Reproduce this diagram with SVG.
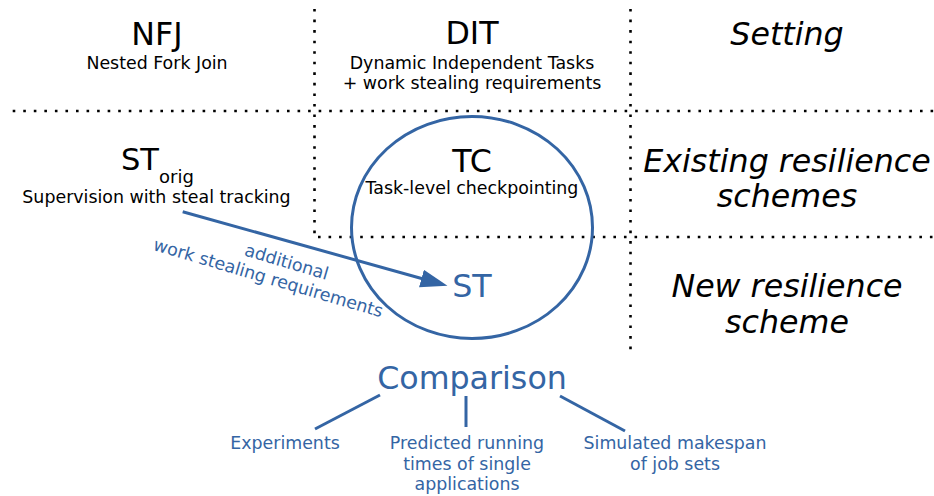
<svg xmlns="http://www.w3.org/2000/svg" width="934" height="496" viewBox="0 0 934 496">
  <style>
    text { font-family: "DejaVu Sans", "Liberation Sans", sans-serif; fill: #000; }
    .big { font-size: 31.7px; text-anchor: middle; }
    .sub { font-size: 17.4px; text-anchor: middle; }
    .cat { font-size: 31.7px; font-style: italic; text-anchor: middle; }
    .blue { fill: #3465a4; }
    .grid { stroke: #000; stroke-width: 2.6; stroke-dasharray: 2.6 7.95; fill: none; }
    .conn { stroke: #3465a4; stroke-width: 3; fill: none; }
  </style>
  <defs>
    <marker id="head" markerUnits="userSpaceOnUse" markerWidth="30" markerHeight="20" refX="2" refY="9" orient="auto">
      <path d="M0,0 L27,9 L0,18 z" fill="#3465a4"/>
    </marker>
  </defs>
  <rect width="934" height="496" fill="#fff"/>

  <!-- dotted table grid -->
  <g id="grid">
    <line class="grid" x1="12.7" y1="111" x2="934" y2="111"/>
    <line class="grid" x1="314.5" y1="9" x2="314.5" y2="238"/>
    <line class="grid" x1="630.5" y1="9" x2="630.5" y2="350"/>
    <line class="grid" x1="318" y1="237" x2="934" y2="237"/>
  </g>

  <!-- row / column headings -->
  <g id="setting">
    <text class="cat" x="787" y="45">Setting</text>
  </g>
  <g id="existing">
    <text class="cat" x="787" y="172">Existing resilience</text>
    <text class="cat" x="787" y="207">schemes</text>
  </g>
  <g id="new">
    <text class="cat" x="787" y="297">New resilience</text>
    <text class="cat" x="787" y="333">scheme</text>
  </g>

  <!-- nodes -->
  <g id="nfj">
    <text class="big" x="157" y="45">NFJ</text>
    <text class="sub" x="157" y="68.5">Nested Fork Join</text>
  </g>
  <g id="dit">
    <text class="big" x="472" y="44">DIT</text>
    <text class="sub" x="472" y="68.5">Dynamic Independent Tasks</text>
    <text class="sub" x="472" y="89">+ work stealing requirements</text>
  </g>
  <g id="storig">
    <text x="121" y="170" font-size="30.5">ST<tspan font-size="18" dy="12.5">orig</tspan></text>
    <text class="sub" x="156.5" y="202.5">Supervision with steal tracking</text>
  </g>
  <g id="tc">
    <text class="big" x="472" y="172">TC</text>
    <text class="sub" x="472" y="193.5">Task-level checkpointing</text>
  </g>
  <g id="st">
    <ellipse cx="472" cy="227.5" rx="120.5" ry="111" fill="none" stroke="#3465a4" stroke-width="3"/>
    <text class="big blue" x="472" y="297">ST</text>
  </g>
  <g id="comparison">
    <text class="big blue" x="472" y="388.5">Comparison</text>
  </g>
  <g id="experiments">
    <text class="sub blue" x="285" y="449">Experiments</text>
  </g>
  <g id="predicted">
    <text class="sub blue" x="467" y="449">Predicted running</text>
    <text class="sub blue" x="467" y="469.5">times of single</text>
    <text class="sub blue" x="467" y="490">applications</text>
  </g>
  <g id="simulated">
    <text class="sub blue" x="675" y="449">Simulated makespan</text>
    <text class="sub blue" x="675" y="469.5">of job sets</text>
  </g>

  <!-- connectors -->
  <g id="connectors">
    <line class="conn" x1="182.7" y1="211.7" x2="423.4" y2="279" marker-end="url(#head)"/>
    <g transform="translate(275 273) rotate(16.5)">
      <text class="sub blue" x="8" y="-8">additional</text>
      <text class="sub blue" x="-5" y="12.5">work stealing requirements</text>
    </g>
    <line class="conn" x1="380" y1="395" x2="315" y2="429"/>
    <line class="conn" x1="466" y1="396" x2="466" y2="427"/>
    <line class="conn" x1="560" y1="396" x2="625" y2="431"/>
  </g>
</svg>
